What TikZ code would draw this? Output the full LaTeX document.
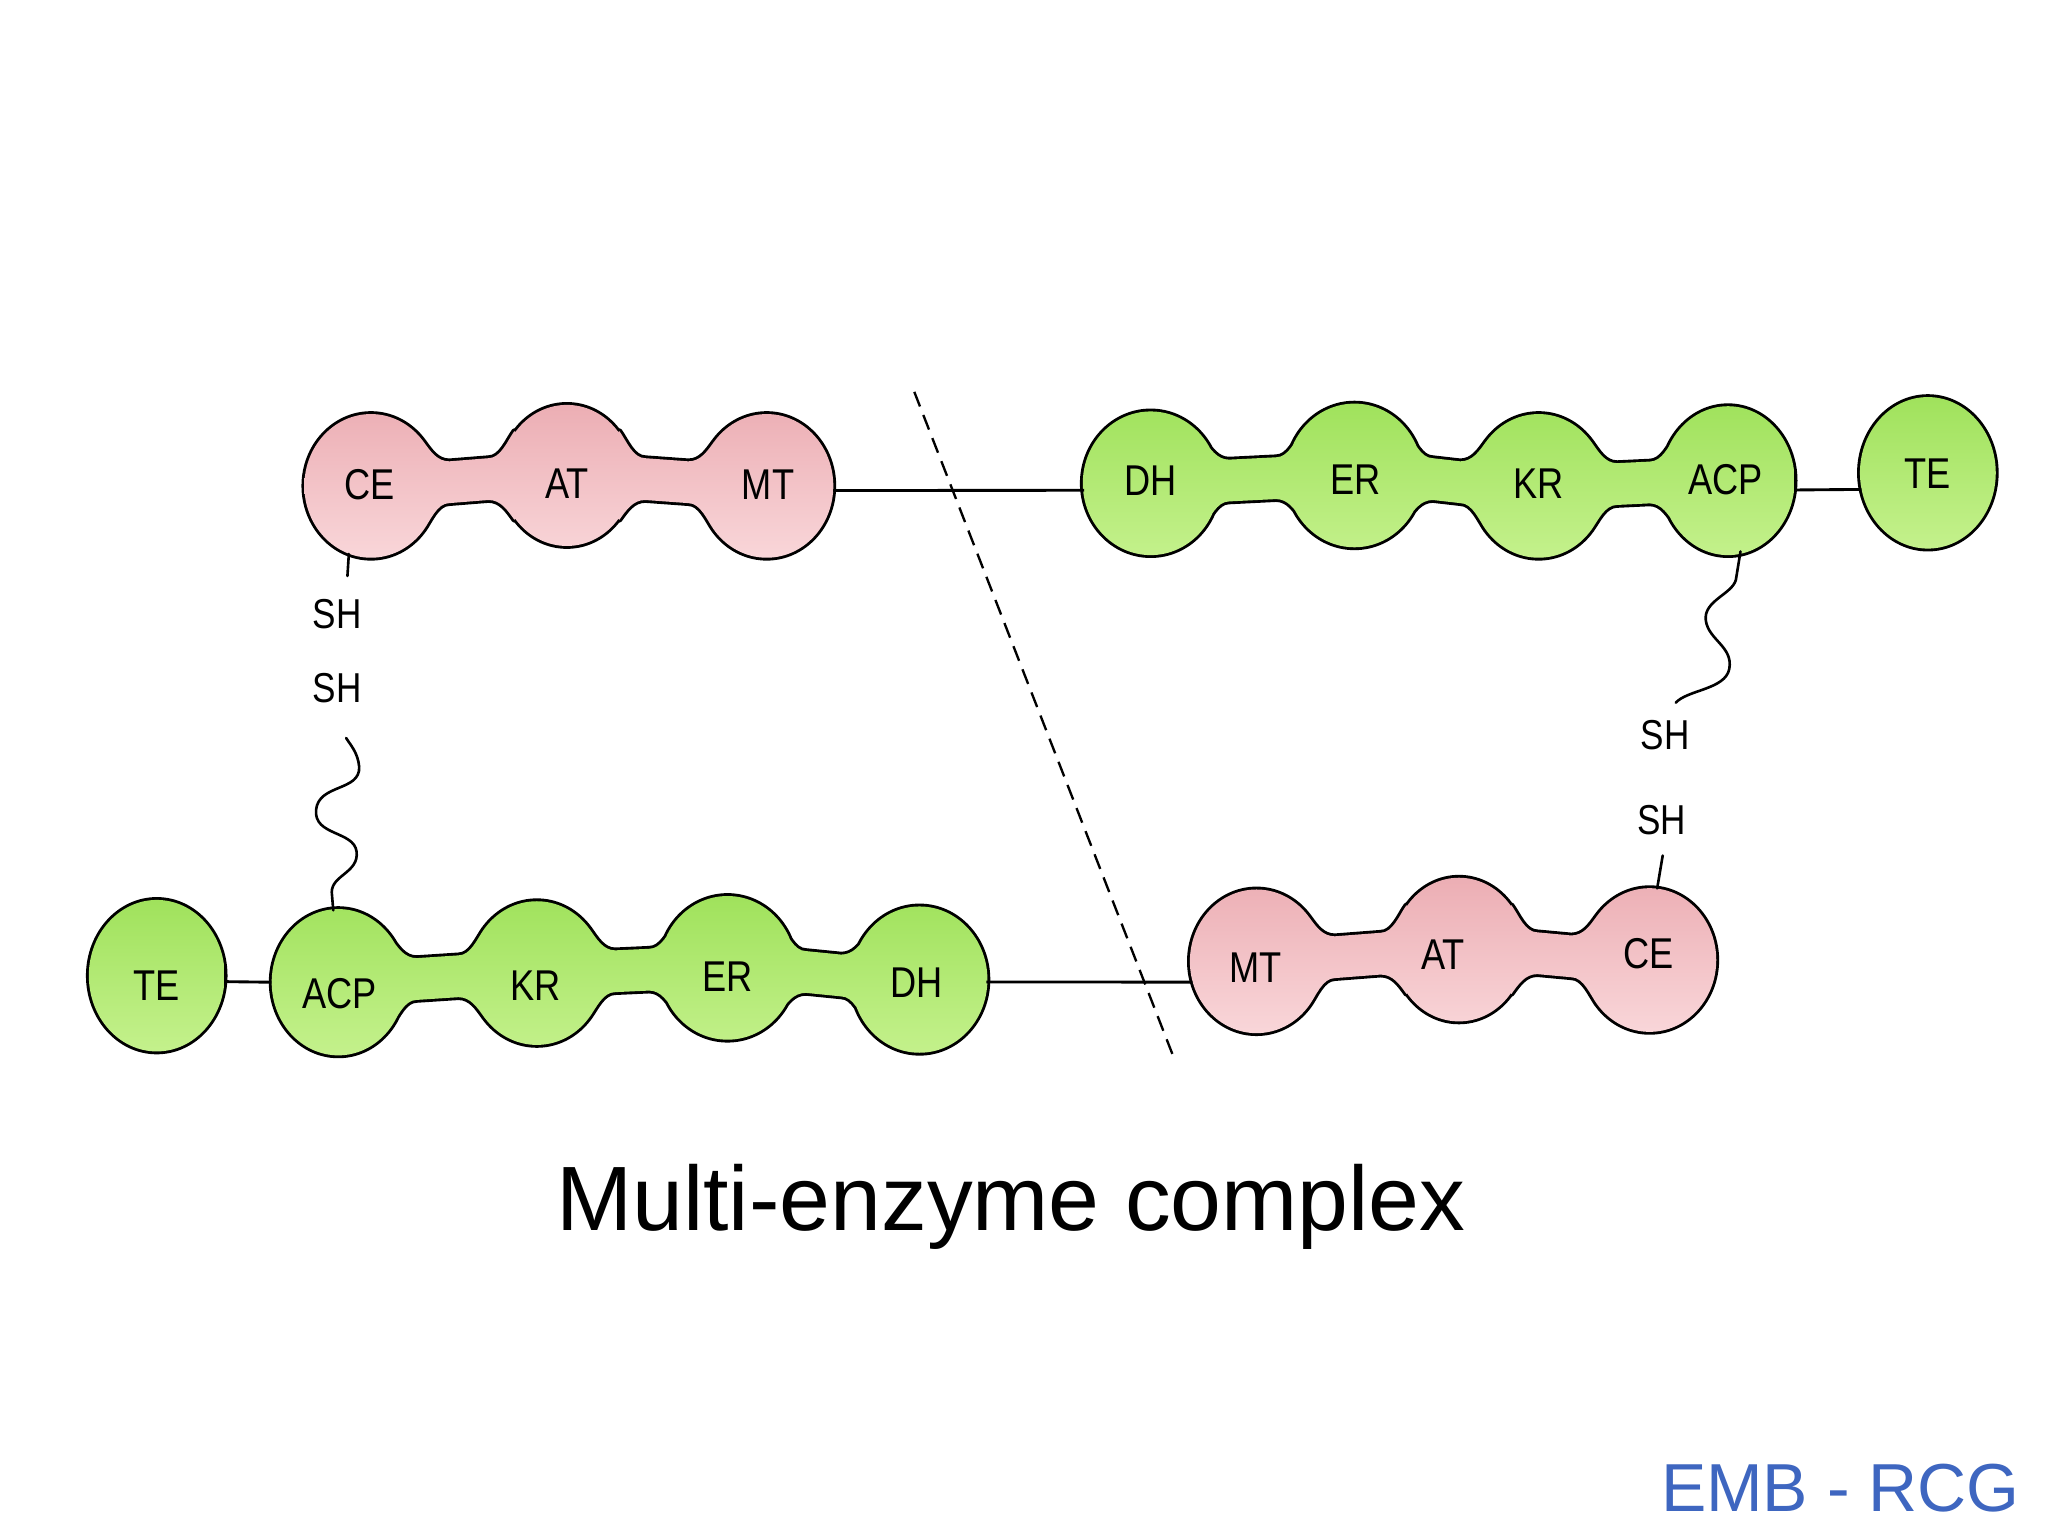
\documentclass[tikz,border=0pt]{standalone}
\usepackage{fontspec}
\setmainfont{Liberation Sans}
\newfontfamily\narrowlbl[FakeStretch=0.84]{Liberation Sans}
\usetikzlibrary{shapes.geometric}
\definecolor{pinkT}{RGB}{236,174,180}
\definecolor{pinkB}{RGB}{249,214,217}
\definecolor{greenT}{RGB}{160,226,92}
\definecolor{greenB}{RGB}{196,241,140}
\definecolor{embblue}{RGB}{62,102,192}
\tikzset{
 neck/.style n args={4}{insert path={
  ({#1+40.2},{#2-33.9}) .. controls ({#1+45.5},{#2-26.6}) and ({#1+50.5},{#2+(#4-#2)*0.35-16}) .. ({#1+60},{#2+(#4-#2)*0.35-16})
  -- ({#3-60},{#2+(#4-#2)*0.65-16}) .. controls ({#3-50.5},{#2+(#4-#2)*0.65-16}) and ({#3-45.5},{#4-26.6}) .. ({#3-40.2},{#4-33.9})
  -- (#3,#4) -- ({#3-40.2},{#4+33.9}) .. controls ({#3-45.5},{#4+26.6}) and ({#3-50.5},{#2+(#4-#2)*0.65+16}) .. ({#3-60},{#2+(#4-#2)*0.65+16})
  -- ({#1+60},{#2+(#4-#2)*0.35+16}) .. controls ({#1+50.5},{#2+(#4-#2)*0.35+16}) and ({#1+45.5},{#2+26.6}) .. ({#1+40.2},{#2+33.9})
  -- (#1,#2) -- cycle}},
 tlchain/.style={insert path={(284,372) ellipse [x radius=51,y radius=55] (434,364) ellipse [x radius=50,y radius=54] (587,372) ellipse [x radius=51,y radius=55]
   [neck={284}{372}{434}{364}] [neck={434}{364}{587}{372}]}},
 trchain/.style={insert path={(881,370) ellipse [x radius=52,y radius=55] (1037,364) ellipse [x radius=52,y radius=55] (1178,372) ellipse [x radius=51,y radius=55] (1323,368) ellipse [x radius=51,y radius=57]
   [neck={881}{370}{1037}{364}] [neck={1037}{364}{1178}{372}] [neck={1178}{372}{1323}{368}]}},
 blchain/.style={insert path={(259,752) ellipse [x radius=51,y radius=56] (411,745) ellipse [x radius=51,y radius=55] (557,741) ellipse [x radius=52,y radius=55] (704,750) ellipse [x radius=52,y radius=56]
   [neck={259}{752}{411}{745}] [neck={411}{745}{557}{741}] [neck={557}{741}{704}{750}]}},
 brchain/.style={insert path={(962,736) ellipse [x radius=51,y radius=55] (1117,727) ellipse [x radius=50,y radius=55] (1263,735) ellipse [x radius=51,y radius=55]
   [neck={962}{736}{1117}{727}] [neck={1117}{727}{1263}{735}]}},
 outl/.style={draw=black, line width=4.4pt, line join=round},
 pinkfill/.style={top color=pinkT, bottom color=pinkB},
 greenfill/.style={top color=greenT, bottom color=greenB},
 dom/.style={ellipse, minimum width=102pt, minimum height=110pt, inner sep=0pt},
 tedom/.style={dom, minimum width=104pt, minimum height=116pt},
 lbl/.style={inner sep=0pt, font=\narrowlbl\fontsize{33}{33}\selectfont},
 shlabel/.style={inner sep=1pt, font=\narrowlbl\fontsize{32}{32}\selectfont},
 conn/.style={line width=2.2pt},
 tether/.style={line width=2pt, line cap=round},
 dashline/.style={line width=1.8pt, dash pattern=on 12pt off 7pt},
}
\begin{document}
\begin{tikzpicture}[x=1pt,y=-1pt]
\useasboundingbox[fill=white] (0,0) rectangle (1568,1176);
% chain bodies
\draw[outl] [tlchain];
\shade[pinkfill] [tlchain];
\draw[outl] [trchain];
\shade[greenfill] [trchain];
\draw[outl] (1476,362) ellipse [x radius=52,y radius=58];
\shade[greenfill] (1476,362) ellipse [x radius=52,y radius=58];
\draw[outl] [blchain];
\shade[greenfill] [blchain];
\draw[outl] (120,747) ellipse [x radius=52,y radius=58];
\shade[greenfill] (120,747) ellipse [x radius=52,y radius=58];
\draw[outl] [brchain];
\shade[pinkfill] [brchain];
% domain nodes (shape outlines)
\node[dom] (tlCE) at (284,372) {};
\node[dom] (tlAT) at (434,364) {};
\node[dom] (tlMT) at (587,372) {};
\node[dom] (trDH) at (881,370) {};
\node[dom] (trER) at (1037,364) {};
\node[dom] (trKR) at (1178,372) {};
\node[dom] (trACP) at (1323,368) {};
\node[tedom] (trTE) at (1476,362) {};
\node[tedom] (blTE) at (120,747) {};
\node[dom] (blACP) at (259,752) {};
\node[dom] (blKR) at (411,745) {};
\node[dom] (blER) at (557,741) {};
\node[dom] (blDH) at (704,750) {};
\node[dom] (brMT) at (962,736) {};
\node[dom] (brAT) at (1117,727) {};
\node[dom] (brCE) at (1263,735) {};
% domain labels
\node[lbl] (tlCEl) at (283,371) {CE};
\node[lbl] (tlATl) at (434,370) {AT};
\node[lbl] (tlMTl) at (588,371) {MT};
\node[lbl] (trDHl) at (881,368) {DH};
\node[lbl] (trERl) at (1038,367) {ER};
\node[lbl] (trKRl) at (1178,370) {KR};
\node[lbl] (trACPl) at (1321,367) {ACP};
\node[lbl] (trTEl) at (1476,363) {TE};
\node[lbl] (blTEl) at (120,755) {TE};
\node[lbl] (blACPl) at (260,761) {ACP};
\node[lbl] (blKRl) at (410,755) {KR};
\node[lbl] (blERl) at (557,748) {ER};
\node[lbl] (blDHl) at (702,752) {DH};
\node[lbl] (brMTl) at (961,741) {MT};
\node[lbl] (brATl) at (1105,731) {AT};
\node[lbl] (brCEl) at (1262,730) {CE};
% connectors
\draw[conn] (tlMT.-4) -- (trDH.186);
\draw[conn] (trACP.-8) -- (trTE.194);
\draw[conn] (blTE.-5) -- (blACP.180);
\draw[conn] (blDH.-2) -- (brMT.198);
% SH labels
\node[shlabel] (sh1) at (258,470) {SH};
\node[shlabel] (sh2) at (258,527) {SH};
\node[shlabel] (sh3) at (1275,563) {SH};
\node[shlabel] (sh4) at (1272,628) {SH};
% tethers
\coordinate (t1) at (266,441);
\draw[tether] (tlCE.-108) -- (t1);
\coordinate (t2) at (1273,655);
\draw[tether] (brCE.84) -- (t2);
\coordinate (w1) at (265,565);
\draw[tether] (blACP.94) -- (254,683) .. controls (254,670) and (275,668) .. (273,652)
  .. controls (271,636) and (240,640) .. (242,620) .. controls (244,600) and (276,606) .. (275,587)
  .. controls (274,576) and (268,570) .. (w1);
\coordinate (w2) at (1283,538);
\draw[tether] (trACP.-80) -- (1329,444) .. controls (1326,455) and (1304,460) .. (1306,475)
  .. controls (1308,490) and (1327,495) .. (1324,512) .. controls (1321,528) and (1292,528) .. (w2);
% dashed divider
\coordinate (d1) at (700,300);
\coordinate (d2) at (898,808);
\draw[dashline] (d1) -- (d2);
% title and logo
\node[font=\fontsize{70}{80}\selectfont, anchor=base] (title) at (774,942) {Multi-enzyme complex};
\node[font=\fontsize{52}{60}\selectfont, text=embblue, anchor=base] (logo) at (1409,1157) {EMB - RCG};
\end{tikzpicture}
\end{document}
